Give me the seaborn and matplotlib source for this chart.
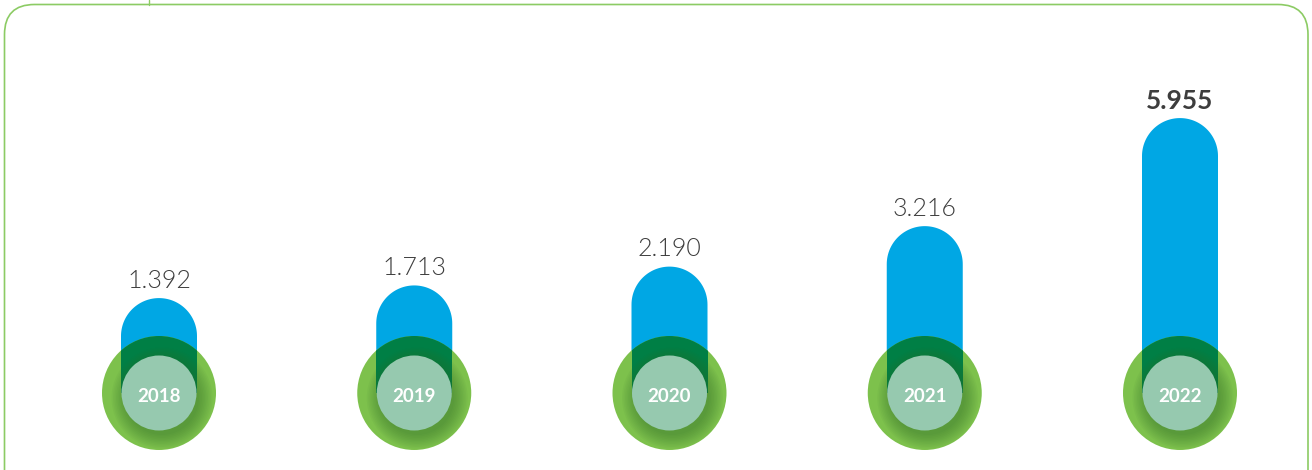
import numpy as np
import pandas as pd
import seaborn as sns
import matplotlib.pyplot as plt
from matplotlib.patches import Ellipse, Rectangle, FancyBboxPatch, Polygon
from matplotlib.transforms import IdentityTransform

years = ["2018", "2019", "2020", "2021", "2022"]
values = [1.392, 1.713, 2.190, 3.216, 5.955]
labels = ["1.392", "1.713", "2.190", "3.216", "5.955"]

BLUE = "#00A7E4"
GREEN = "#7DC14C"
DARK = "#007F45"
INNER = "#96C9AF"
FRAME = "#8CCB64"
TEXT = "#3D3D3D"

W, H = 1312, 470
# pixel scale of the axes (axes covers whole figure)
x0_px, dx_px = 159.0, 255.25     # category centre / spacing
y0_px, dy_px = 353.0, 39.45      # value 0 position (from top) / px per unit

sns.set_theme(style="white")
plt.rcParams['font.family'] = ['Lato', 'DejaVu Sans']

fig = plt.figure(figsize=(W / 100, H / 100), dpi=100)
ax = fig.add_axes([0, 0, 1, 1])

df = pd.DataFrame({"year": years, "value": values})
sns.barplot(data=df, x="year", y="value", color=BLUE, width=76 / dx_px,
            saturation=1, linewidth=0, ax=ax, zorder=1)

ax.set_xlim(-x0_px / dx_px, (W - x0_px) / dx_px)
ax.set_ylim(-(H - y0_px) / dy_px, y0_px / dy_px)
ax.axis("off")

def rx(px):
    return px / dx_px

def ry(px):
    return px / dy_px

centre_y = -ry(40)
cap = ry(38)
theta = np.linspace(0, np.pi, 60)

bars = list(ax.patches)
for i, (bar, v) in enumerate(zip(bars, values)):
    bx, bw = bar.get_x(), bar.get_width()
    xc = bx + bw / 2
    # turn the plain bar into a pill: same base/width, semicircular top
    bar.set_visible(False)
    top = np.column_stack([xc + bw / 2 * np.cos(theta), v - cap + cap * np.sin(theta)])
    pts = np.vstack([[bx + bw, centre_y], top, [bx, centre_y]])
    ax.add_patch(Polygon(pts, closed=True, fc=BLUE, lw=0, zorder=1))

    outer = Ellipse((xc, centre_y), 2 * rx(57), 2 * ry(57), fc=GREEN, lw=0, zorder=2)
    ax.add_patch(outer)
    dark = Rectangle((bx, centre_y), bw, v - centre_y, fc=DARK, lw=0, zorder=3)
    ax.add_patch(dark)
    dark.set_clip_path(outer)

    # soft shadow under the inner disc
    for k in range(10):
        sh = Ellipse((xc + rx(3), centre_y - ry(5)), 2 * rx(37 + k * 1.5), 2 * ry(37 + k * 1.5),
                     fc="#2E6B2A", alpha=0.05, lw=0, zorder=4)
        ax.add_patch(sh)
        sh.set_clip_path(outer)

    ax.add_patch(Ellipse((xc, centre_y), 2 * rx(37.5), 2 * ry(37.5), fc=INNER, lw=0, zorder=5))
    ax.text(xc, centre_y - ry(4), years[i], ha="center", va="center", color="white",
            fontsize=13.5, fontweight="bold", zorder=6)

    bold = i == len(values) - 1
    ax.annotate(labels[i], (xc, v), xytext=(0, 4), textcoords="offset points",
                ha="center", va="bottom", color=TEXT, fontsize=19 if bold else 18,
                fontweight="bold" if bold else 300, zorder=6)

# rounded green frame
frame = FancyBboxPatch((4.5, -60), W - 8.5, H - 4.5 + 60, boxstyle="round,pad=0,rounding_size=30",
                       transform=IdentityTransform(), fill=False, ec=FRAME, lw=1.2)
fig.patches.append(frame)
fig.lines.append(plt.Line2D([149, 149], [H - 5, H], transform=IdentityTransform(),
                            color=FRAME, lw=1))

fig.savefig("out.png", dpi=100)
